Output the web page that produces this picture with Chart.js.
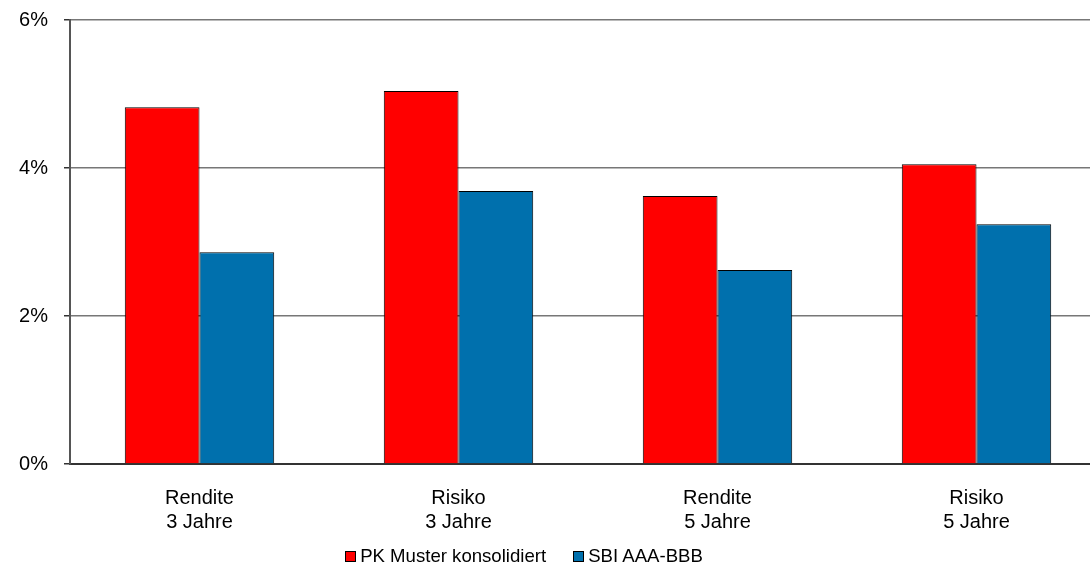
<!DOCTYPE html>
<html>
<head>
<meta charset="utf-8">
<script src="https://cdn.jsdelivr.net/npm/chart.js@4"></script>
<style>
  html, body { margin: 0; padding: 0; background: #fff; overflow: hidden; }
  #wrap { position: relative; width: 1090px; height: 572px; overflow: hidden; }
  #legend {
    position: absolute; left: 0; top: 545px; width: 1048px;
    display: flex; justify-content: center; gap: 27px;
    font: 18.6px "Liberation Sans", Arial, sans-serif; color: #000;
  }
  #legend .item { display: flex; align-items: center; gap: 4px; white-space: nowrap; }
  #legend .box { width: 9px; height: 9px; border: 1px solid #000; }
</style>
</head>
<body>
<div id="wrap">
  <canvas id="chart" width="1106" height="572"></canvas>
  <div id="legend"></div>
</div>
<script>
// Performance comparison: PK Muster vs. SBI AAA-BBB
const categories = [["Rendite", "3 Jahre"], ["Risiko", "3 Jahre"], ["Rendite", "5 Jahre"], ["Risiko", "5 Jahre"]];
const pkValues = [4.82, 5.04, 3.62, 4.05];
const sbiValues = [2.86, 3.69, 2.62, 3.24];
const yTicks = [0, 2, 4, 6];

Chart.defaults.font.family = "'Liberation Sans', Arial, sans-serif";
Chart.defaults.font.size = 20;
Chart.defaults.color = "#000";

const chart = new Chart(document.getElementById("chart"), {
  type: "bar",
  data: {
    labels: categories,
    datasets: [
      {
        label: "PK Muster konsolidiert",
        data: pkValues,
        backgroundColor: "#FF0000",
        borderColor: "#000",
        borderWidth: 1,
      },
      {
        label: "SBI AAA-BBB",
        data: sbiValues,
        backgroundColor: "#0070AD",
        borderColor: "#000",
        borderWidth: 1,
      },
    ],
  },
  options: {
    responsive: false,
    animation: false,
    // the plot runs past the right edge of the window, as in the original
    layout: { padding: { top: 20, right: 0, left: 0, bottom: 36 } },
    datasets: { bar: { categoryPercentage: 0.577, barPercentage: 1 } },
    plugins: {
      legend: { display: false },
      tooltip: { enabled: false },
    },
    scales: {
      x: {
        grid: { display: false, drawTicks: false },
        border: { color: "#333", width: 2 },
        ticks: { padding: 22, font: { size: 20, lineHeight: 1.2 } },
        afterFit: (s) => { s.height = 72; },
      },
      y: {
        min: 0,
        max: 6,
        afterBuildTicks: (s) => { s.ticks = yTicks.map((v) => ({ value: v })); },
        ticks: { callback: (v) => v + "%", padding: 16 },
        grid: { color: "#777", lineWidth: 1.5, tickLength: 6, tickColor: "#333" },
        border: { color: "#555", width: 2 },
        afterFit: (s) => {
          s.width = 70;
          // the label padding would otherwise push the plot top down
          s.paddingTop = 0;
          s.paddingBottom = 0;
        },
      },
    },
  },
});

// legend as html, built from the datasets
const legendEl = document.getElementById("legend");
chart.data.datasets.forEach((ds) => {
  const item = document.createElement("span");
  item.className = "item";
  const box = document.createElement("span");
  box.className = "box";
  box.style.background = ds.backgroundColor;
  item.appendChild(box);
  item.appendChild(document.createTextNode(ds.label));
  legendEl.appendChild(item);
});
</script>
</body>
</html>
